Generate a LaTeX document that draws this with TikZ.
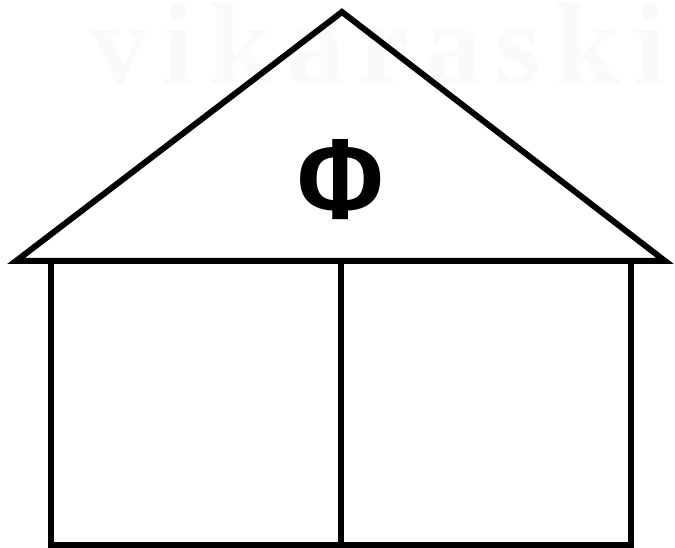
\documentclass[tikz,border=0pt]{standalone}
\usepackage{fontspec}
\newfontfamily\letterfont{Fira Sans}
\newfontfamily\markfont[LetterSpace=12]{Liberation Serif}
\begin{document}
\begin{tikzpicture}[x=1pt,y=-1pt]
\useasboundingbox (0,0) rectangle (675,548);

\node[anchor=base west,inner sep=0pt,text=black!2] (mark) at (90,84)
  {\markfont\bfseries\fontsize{116}{116}\selectfont vikaraski};

\draw[line width=6pt] (16,261) -- (342,12) -- (665,261) -- cycle;

\draw[line width=6pt] (51,261) -- (51,545) -- (631,545) -- (631,261);
\draw[line width=6pt] (341,261) -- (341,545);

\node[inner sep=0pt,transform shape,xscale=0.95] (letter) at (341,180)
  {\letterfont\bfseries\fontsize{104}{104}\selectfont Ф};
\end{tikzpicture}
\end{document}
